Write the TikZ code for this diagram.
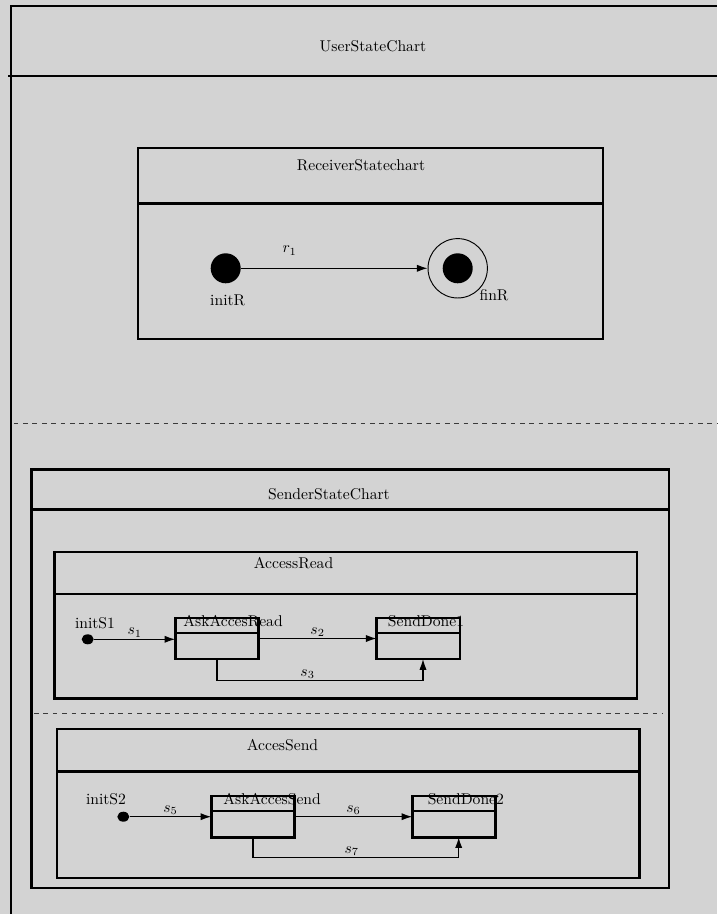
\documentclass[tikz,border=0pt]{standalone}
\usetikzlibrary{arrows.meta, positioning, shapes.geometric}
\definecolor{cbg}{HTML}{D3D3D3}
\definecolor{cdash}{HTML}{3A3A3A}
\tikzset{
  every picture/.style={line width=0.7pt},
  frame/.style={draw=black, line width=1.7pt},
  sepline/.style={draw=cdash, line width=0.6pt, dashed},
  statebox/.style={draw=black, line width=1.7pt, rectangle, minimum width=53.5pt, minimum height=26.4pt, inner sep=0pt, outer sep=0pt},
  statename/.style={anchor=base west, inner sep=0pt},
  startdot/.style={circle, fill=black, minimum size=19.2pt, inner sep=0pt},
  smalldot/.style={ellipse, fill=black, minimum width=7.7pt, minimum height=6.4pt, inner sep=0pt},
  ring/.style={circle, draw=black, line width=0.6pt, minimum size=38pt, inner sep=0pt},
  trans/.style={-{Latex[length=6.8pt, width=4.6pt]}, line width=0.7pt},
  lbl/.style={inner sep=1pt},
}

\begin{document}
\begin{tikzpicture}[x=0.64pt, y=-0.64pt]
  \useasboundingbox (0,0) rectangle (717,914);
  \fill[cbg] (0,0) rectangle (717,914);

  % user chart
  \draw[frame] (11,914) |- (717,6);
  \draw[frame] (8,76) -- (717,76);
  \node[lbl] (usertitle) at (373,46) {UserStateChart};

  % receiver
  \draw[frame] (138,148) rectangle (603,339);
  \draw[frame] (138,203.5) -- (603,203.5);
  \node[lbl] (rectitle) at (361,165) {ReceiverStatechart};
  \node[startdot] (initR) at (225.7,268.3) {};
  \node[ring] (finR) at (457.7,268.3) {};
  \node[startdot] (finRdot) at (finR) {};
  \node[lbl] (initRlbl) at (227.7,300) {initR};
  \node[lbl] (finRlbl) at (494,295) {finR};
  \draw[trans] (initR) -- node[above=7pt, pos=0.26, lbl] {$r_1$} (finR);

  \draw[sepline] (13.7,423.3) -- (717,423.3);

  % sender
  \draw[frame] (31.5,469.6) rectangle (669,888);
  \draw[frame] (31.5,509.5) -- (669,509.5);
  \node[lbl] (sendtitle) at (329,494) {SenderStateChart};

  % access read
  \draw[frame] (54.8,552) rectangle (637,698.7);
  \draw[frame] (54.8,594) -- (637,594);
  \node[lbl] (readtitle) at (293.5,563.3) {AccessRead};
  \node[smalldot] (initS1) at (87.7,639.3) {};
  \node[lbl] (initS1lbl) at (95,623) {initS1};
  \node[statebox] (ask1) at (217,638.5) {};
  \node[statebox] (done1) at (418.3,638.5) {};
  \draw[frame] ([yshift=-9.6pt]ask1.north west) -- ([yshift=-9.6pt]ask1.north east);
  \draw[frame] ([yshift=-9.6pt]done1.north west) -- ([yshift=-9.6pt]done1.north east);
  \node[statename] (ask1name) at ([xshift=4.9pt, yshift=-5.3pt]ask1.north west) {AskAccesRead};
  \node[statename] (done1name) at ([xshift=7pt, yshift=-5.3pt]done1.north west) {SendDone1};
  \draw[trans] (initS1) -- node[above, lbl] {$s_1$} (initS1 -| ask1.west);
  \draw[trans] (ask1.east) -- node[above, lbl] {$s_2$} (done1.west);
  \draw[trans] (ask1.south) -- ++(0,21.4) -| node[pos=0.22, above, lbl] {$s_3$} ([xshift=3pt]done1.south);

  \draw[sepline] (34,713.3) -- (663,713.3);

  % acces send
  \draw[frame] (57,729) rectangle (639.3,878);
  \draw[frame] (57,771.7) -- (639.3,771.7);
  \node[lbl] (sendsubtitle) at (282.5,745) {AccesSend};
  \node[smalldot] (initS2) at (123.3,816.7) {};
  \node[lbl] (initS2lbl) at (106,799) {initS2};
  \node[statebox] (ask2) at (253,816.7) {};
  \node[statebox] (done2) at (454,816.7) {};
  \draw[frame] ([yshift=-9.6pt]ask2.north west) -- ([yshift=-9.6pt]ask2.north east);
  \draw[frame] ([yshift=-9.6pt]done2.north west) -- ([yshift=-9.6pt]done2.north east);
  \node[statename] (ask2name) at ([xshift=7.5pt, yshift=-5.3pt]ask2.north west) {AskAccesSend};
  \node[statename] (done2name) at ([xshift=9.6pt, yshift=-5.3pt]done2.north west) {SendDone2};
  \draw[trans] (initS2) -- node[above, lbl] {$s_5$} (initS2 -| ask2.west);
  \draw[trans] (ask2.east) -- node[above, lbl] {$s_6$} (done2.west);
  \draw[trans] (ask2.south) -- ++(0,20.3) -| node[pos=0.24, above, lbl] {$s_7$} ([xshift=3pt]done2.south);
\end{tikzpicture}
\end{document}
